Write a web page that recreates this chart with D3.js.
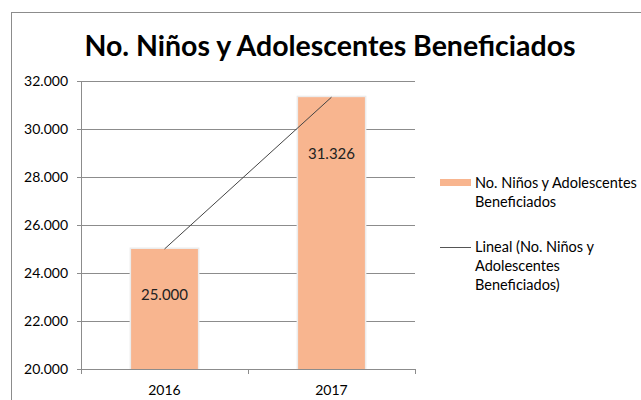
<!DOCTYPE html>
<html><head><meta charset="utf-8">
<script src="https://cdn.jsdelivr.net/npm/d3@7"></script>
<style>body{margin:0;background:#fff}svg{display:block;font-family:Lato,"Open Sans",sans-serif}</style>
</head><body><svg id="c" width="641" height="400"></svg>
<script>
const categories = ["2016", "2017"];
const values = [25000, 31326];
const yTicks = [20000, 22000, 24000, 26000, 28000, 30000, 32000];
const title = "No. Niños y Adolescentes Beneficiados";
const seriesName = ["No. Niños y Adolescentes", "Beneficiados"];
const trendName = ["Lineal (No. Niños y", "Adolescentes", "Beneficiados)"];

const svg = d3.select("#c");
const loc = d3.formatLocale({decimal: ",", thousands: ".", grouping: [3], currency: ["", ""]});
const fmt = loc.format(",.0f");

svg.append("rect").attr("x", 11.5).attr("y", 12.5).attr("width", 640).attr("height", 400)
  .attr("fill", "#fff").attr("stroke", "#8c8c8c").attr("stroke-width", 1);

const L = 81, R = 415, T = 81, B = 369;
const x = d3.scaleBand().domain(categories).range([L, R]);
const y = d3.scaleLinear().domain([20000, 32000]).range([B, T]);

svg.append("text").attr("x", 330).attr("y", 56).attr("text-anchor", "middle")
  .attr("font-size", 28.5).attr("font-weight", "bold").attr("fill", "#000").text(title);

// gridlines
svg.append("g").selectAll("line").data(yTicks).join("line")
  .attr("x1", L - 4).attr("x2", R).attr("y1", d => Math.round(y(d)) + 0.5).attr("y2", d => Math.round(y(d)) + 0.5)
  .attr("stroke", "#8c8c8c").attr("stroke-width", 1);
svg.append("g").selectAll("text").data(yTicks).join("text")
  .attr("x", 68).attr("y", d => y(d) + 5).attr("text-anchor", "end")
  .attr("font-size", 14).attr("fill", "#000").text(d => fmt(d));

// y axis line
svg.append("line").attr("x1", L + 0.5).attr("x2", L + 0.5).attr("y1", T).attr("y2", B)
  .attr("stroke", "#8c8c8c");
// x axis ticks
const xt = [L, L + x.bandwidth(), R];
svg.append("g").selectAll("line").data(xt).join("line")
  .attr("x1", d => Math.round(d) + 0.5).attr("x2", d => Math.round(d) + 0.5)
  .attr("y1", B).attr("y2", B + 5).attr("stroke", "#8c8c8c");

// bars
const bw = x.bandwidth() * 0.4;
const bars = svg.append("g");
bars.selectAll("rect.sh").data(values).join("rect").attr("class", "sh")
  .attr("x", (d, i) => x(categories[i]) + x.bandwidth() / 2 - bw / 2 - 1.5)
  .attr("y", d => y(d) - 1.5).attr("width", bw + 3).attr("height", d => B - y(d) + 1.5)
  .attr("fill", "#ececec");
bars.selectAll("rect.b").data(values).join("rect").attr("class", "b")
  .attr("x", (d, i) => x(categories[i]) + x.bandwidth() / 2 - bw / 2)
  .attr("y", d => y(d)).attr("width", bw).attr("height", d => B - y(d))
  .attr("fill", "#f8b58f");
bars.selectAll("text").data(values).join("text")
  .attr("x", (d, i) => x(categories[i]) + x.bandwidth() / 2)
  .attr("y", d => y(d * 0.925) + 5.5).attr("text-anchor", "middle")
  .attr("font-size", 15).attr("fill", "#222").text(d => fmt(d));

// x labels
svg.append("g").selectAll("text").data(categories).join("text")
  .attr("x", d => x(d) + x.bandwidth() / 2).attr("y", 395).attr("text-anchor", "middle")
  .attr("font-size", 14).attr("fill", "#000").text(d => d);

// trend line
const line = d3.line().x((d, i) => x(categories[i]) + x.bandwidth() / 2).y(d => y(d));
svg.append("path").datum(values).attr("d", line).attr("fill", "none")
  .attr("stroke", "#444").attr("stroke-width", 1);

// legend
svg.append("rect").attr("x", 440).attr("y", 179).attr("width", 31).attr("height", 7).attr("fill", "#f8b58f");
svg.append("text").attr("font-size", 14.5).attr("fill", "#000").selectAll("tspan").data(seriesName).join("tspan")
  .attr("x", 475).attr("y", (d, i) => 188 + i * 19).text(d => d);
svg.append("line").attr("x1", 440).attr("x2", 471).attr("y1", 247.5).attr("y2", 247.5).attr("stroke", "#555");
svg.append("text").attr("font-size", 14.5).attr("fill", "#000").selectAll("tspan").data(trendName).join("tspan")
  .attr("x", 475).attr("y", (d, i) => 252 + i * 19).text(d => d);
</script></body></html>
